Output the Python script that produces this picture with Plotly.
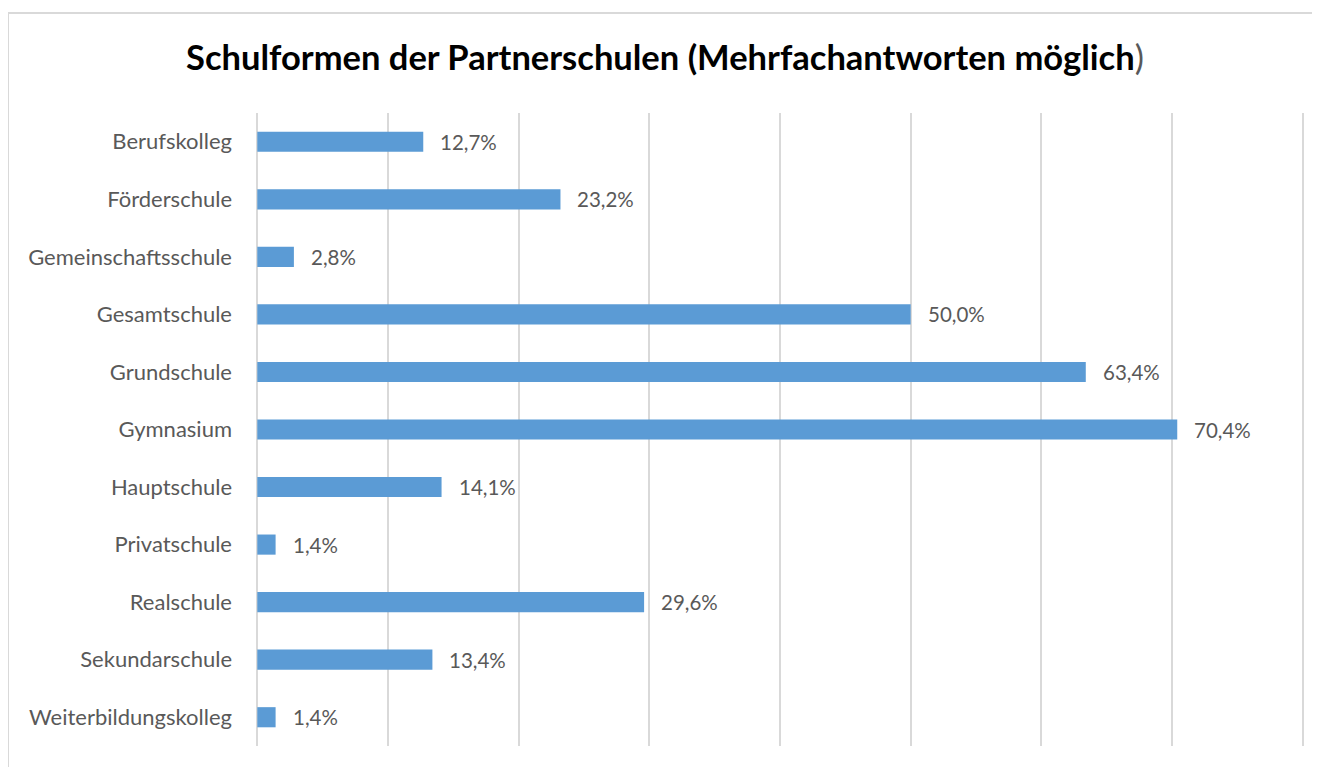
import plotly.graph_objects as go

categories = ["Berufskolleg", "Förderschule", "Gemeinschaftsschule", "Gesamtschule",
              "Grundschule", "Gymnasium", "Hauptschule", "Privatschule",
              "Realschule", "Sekundarschule", "Weiterbildungskolleg"]
values = [12.7, 23.2, 2.8, 50.0, 63.4, 70.4, 14.1, 1.4, 29.6, 13.4, 1.4]
value_labels = [f"{v:.1f}%".replace(".", ",") for v in values]
x_ticks = [0, 10, 20, 30, 40, 50, 60, 70, 80]

FONT = "Lato"
TEXT = "#595959"
BAR = "#5B9BD5"
GRID = "#D9D9D9"

fig = go.Figure()
fig.add_trace(go.Bar(
    x=values, y=categories, orientation="h",
    marker=dict(color=BAR, line=dict(width=0)),
    width=0.35,
    hoverinfo="skip",
))

annotations = []
for c, v, t in zip(categories, values, value_labels):
    annotations.append(dict(
        x=v, y=c, xref="x", yref="y", text=t, showarrow=False,
        xanchor="left", yanchor="middle", xshift=15,
        font=dict(family=FONT, size=20.5, color=TEXT),
    ))

W, H = 1312, 759
L, R, T, B = 248, 16, 105, 21
PW, PH = W - L - R, H - T - B
top_y = (PH + T - 5) / PH
left_x = -L / PW
fig.update_layout(
    width=W, height=H,
    margin=dict(l=L, r=R, t=T, b=B),
    paper_bgcolor="white", plot_bgcolor="white",
    showlegend=False,
    title=dict(
        text="<b>Schulformen der Partnerschulen (Mehrfachantworten möglich</b><span style='color:#595959'>)</span>",
        x=(665 - 8) / W, xanchor="center", y=1 - 50 / H, yanchor="middle",
        font=dict(family=FONT, size=34.5, color="black"),
    ),
    xaxis=dict(
        range=[-0.1, 80.1], tickvals=x_ticks, showticklabels=False,
        showgrid=True, gridcolor=GRID, gridwidth=2,
        zeroline=True, zerolinecolor=GRID, zerolinewidth=2,
        showline=False, fixedrange=True,
    ),
    yaxis=dict(
        autorange="reversed", showgrid=False, zeroline=False, showline=False,
        ticks="", ticklabelstandoff=23,
        tickfont=dict(family=FONT, size=22, color=TEXT),
    ),
    annotations=annotations,
    shapes=[
        dict(type="line", xref="paper", yref="paper",
             x0=left_x, x1=(W - L) / PW, y0=top_y, y1=top_y,
             line=dict(color=GRID, width=2), layer="below"),
        dict(type="line", xref="paper", yref="paper",
             x0=left_x, x1=left_x, y0=top_y, y1=-B / PH,
             line=dict(color=GRID, width=2), layer="below"),
    ],
)

fig.write_html("out.html")
